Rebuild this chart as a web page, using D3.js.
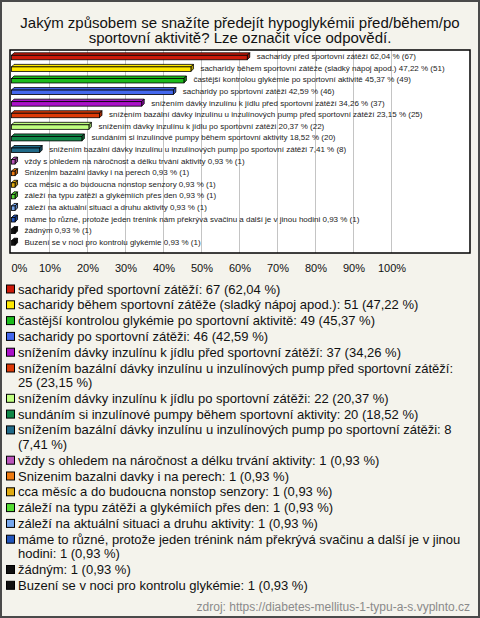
<!DOCTYPE html>
<html><head><meta charset="utf-8">
<script src="https://cdn.jsdelivr.net/npm/d3@7/dist/d3.min.js"></script>
<style>body{margin:0;background:#fff}svg{display:block}</style>
</head><body>
<script>
const titleLines = ["Jakým způsobem se snažíte předejít hypoglykémii před/během/po", "sportovní aktivitě? Lze označit více odpovědí."];
const categories = [
  "sacharidy před sportovní zátěží",
  "sacharidy během sportovní zátěže (sladký nápoj apod.)",
  "častější kontrolou glykémie po sportovní aktivitě",
  "sacharidy po sportovní zátěži",
  "snížením dávky inzulínu k jídlu před sportovní zátěží",
  "snížením bazální dávky inzulínu u inzulínových pump před sportovní zátěží",
  "snížením dávky inzulínu k jídlu po sportovní zátěži",
  "sundáním si inzulínové pumpy během sportovní aktivity",
  "snížením bazální dávky inzulínu u inzulínových pump po sportovní zátěži",
  "vždy s ohledem na náročnost a délku trvání aktivity",
  "Snizenim bazalni davky i na perech",
  "cca měsíc a do budoucna nonstop senzory",
  "záleží na typu zátěži a glykémiích přes den",
  "záleží na aktuální situaci a druhu aktivity",
  "máme to různé, protože jeden trénink nám překrývá svačinu a další je v jinou hodini",
  "žádným",
  "Buzení se v noci pro kontrolu glykémie"
];
const counts = [67, 51, 49, 46, 37, 25, 22, 20, 8, 1, 1, 1, 1, 1, 1, 1, 1];
const percents = [62.04, 47.22, 45.37, 42.59, 34.26, 23.15, 20.37, 18.52, 7.41, 0.93, 0.93, 0.93, 0.93, 0.93, 0.93, 0.93, 0.93];
const colors = ["#cc1a0a", "#ffe800", "#1cbc1c", "#4468ee", "#aa10c8", "#dd3a08", "#c0ff80", "#108848", "#206a88", "#bb55bb", "#ee7a10", "#e0aa10", "#55dd33", "#77a8ee", "#2255bb", "#111111", "#111111"];
const xTicks = [0, 10, 20, 30, 40, 50, 60, 70, 80, 90, 100];
const sourceText = "zdroj: https://diabetes-mellitus-1-typu-a-s.vyplnto.cz";

const W = 480, H = 618;
const FONT = "'Liberation Sans', Arial, sans-serif";
const fmt = v => d3.format(".2f")(v).replace(".", ",");
const darker = c => d3.color(c).darker(0.8).formatHex();

const svg = d3.select("body").append("svg").attr("width", W).attr("height", H)
  .style("font-family", FONT);

svg.append("rect").attr("x", 1).attr("y", 1).attr("width", W - 2).attr("height", H - 2)
  .attr("fill", "#f4f3ec").attr("stroke", "#4a4a4a").attr("stroke-width", 2);

// title
svg.append("g").selectAll("text").data(titleLines).join("text")
  .attr("x", W / 2).attr("y", (d, i) => 22 + i * 15.5)
  .attr("text-anchor", "middle").attr("dominant-baseline", "central")
  .attr("font-size", 15).attr("fill", "#111").text(d => d);

// plot area
const plot = {x: 10, y: 50, w: 460, h: 203};
svg.append("rect").attr("x", plot.x).attr("y", plot.y).attr("width", plot.w).attr("height", plot.h)
  .attr("fill", "#fff");

const x = d3.scaleLinear().domain([0, 100]).range([11.5, 391.5]);
const y = d3.scaleBand().domain(categories).range([51, 248]);

svg.append("defs").append("clipPath").attr("id", "pc")
  .append("rect").attr("x", plot.x).attr("y", plot.y).attr("width", plot.w).attr("height", plot.h);

svg.append("g").selectAll("line").data(xTicks.filter(t => t > 0)).join("line")
  .attr("x1", d => x(d)).attr("x2", d => x(d))
  .attr("y1", plot.y).attr("y2", plot.y + plot.h)
  .attr("stroke", "#c4c4c4").attr("stroke-width", 1);

const g = svg.append("g").attr("clip-path", "url(#pc)");
const depth = 2.5;
const rows = g.selectAll("g.row").data(categories).join("g").attr("class", "row");
rows.each(function (c, i) {
  const sel = d3.select(this);
  const cy = y(c) + y.bandwidth() / 2;
  const x0 = x(0), x1 = x(percents[i]);
  const top = cy - 1.5, bot = cy + 3;
  const col = colors[i];
  sel.append("path")
    .attr("d", `M${x0},${top}L${x0 + depth},${top - depth}L${x1 + depth},${top - depth}L${x1},${top}Z`)
    .attr("fill", col).attr("stroke", "#000").attr("stroke-width", 0.8);
  sel.append("path")
    .attr("d", `M${x1},${top}L${x1 + depth},${top - depth}L${x1 + depth},${bot - depth}L${x1},${bot}Z`)
    .attr("fill", darker(col)).attr("stroke", "#000").attr("stroke-width", 0.8);
  sel.append("rect").attr("x", x0).attr("y", top).attr("width", x1 - x0).attr("height", bot - top)
    .attr("fill", col).attr("stroke", "#000").attr("stroke-width", 0.8);
  sel.append("text").attr("x", x1 + depth + 7).attr("y", cy)
    .attr("dominant-baseline", "central").attr("font-size", 8).attr("fill", "#222")
    .text(`${c} ${fmt(percents[i])} % (${counts[i]})`);
});

svg.append("rect").attr("x", plot.x).attr("y", plot.y).attr("width", plot.w).attr("height", plot.h)
  .attr("fill", "none").attr("stroke", "#000").attr("stroke-width", 1.5);

// axis
const axis = svg.append("g").attr("transform", `translate(0,${plot.y + plot.h + 8})`)
  .call(d3.axisBottom(x).tickValues(xTicks).tickFormat(d => d + "%").tickSize(0));
axis.select(".domain").remove();
axis.selectAll("text").attr("font-size", 11).attr("font-family", FONT).attr("fill", "#111");
axis.selectAll(".tick").filter(d => d === 0).select("text").attr("text-anchor", "start").attr("dx", -0.5);

// legend
const leg = svg.append("g");
const maxW = 450;
let ly = 289;
const measurer = leg.append("text").attr("font-size", 13).attr("visibility", "hidden");
categories.forEach((c, i) => {
  const label = `${c}: ${counts[i]} (${fmt(percents[i])} %)`;
  const words = label.split(" ");
  const lines = [];
  let cur = "";
  words.forEach(w => {
    const t = cur ? cur + " " + w : w;
    measurer.text(t);
    if (measurer.node().getComputedTextLength() > maxW && cur) { lines.push(cur); cur = w; }
    else cur = t;
  });
  lines.push(cur);
  leg.append("rect").attr("x", 6.5).attr("y", ly - 4).attr("width", 8).attr("height", 8)
    .attr("fill", colors[i]).attr("stroke", "#000").attr("stroke-width", 1);
  lines.forEach((ln, k) => {
    leg.append("text").attr("x", 18).attr("y", ly + k * 14.5)
      .attr("dominant-baseline", "central").attr("font-size", 13).attr("fill", "#111").text(ln);
  });
  ly += 15.8 + 14.5 * (lines.length - 1);
});
measurer.remove();

svg.append("text").attr("x", 470).attr("y", 607).attr("text-anchor", "end")
  .attr("dominant-baseline", "central").attr("font-size", 12).attr("fill", "#8a8a8a").text(sourceText);
</script>
</body></html>
